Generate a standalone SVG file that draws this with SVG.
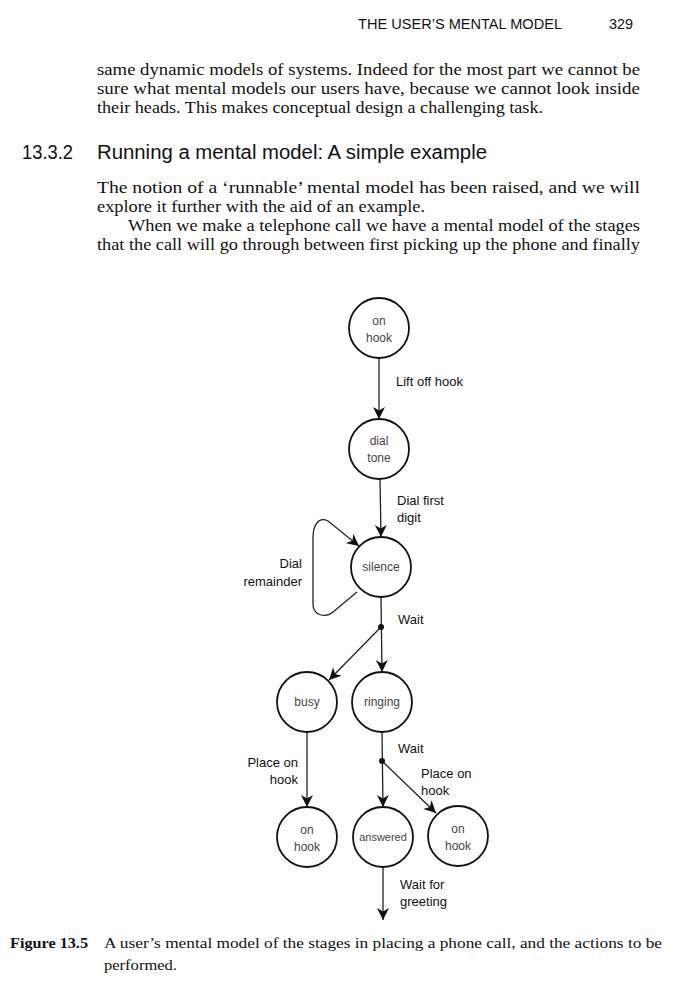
<svg xmlns="http://www.w3.org/2000/svg" width="700" height="1005" viewBox="0 0 700 1005">
<style>
.hdr{font-family:"Liberation Sans",Arial,sans-serif;font-size:14px;fill:#111}
.h2{font-family:"Liberation Sans",Arial,sans-serif;font-size:19.5px;fill:#111}
.body{font-family:"Liberation Serif","Times New Roman",serif;font-size:16px;fill:#111}
.capb{font-family:"Liberation Serif","Times New Roman",serif;font-size:15px;font-weight:bold;fill:#111}
.cap{font-family:"Liberation Serif","Times New Roman",serif;font-size:15px;fill:#111}
.node circle{fill:#fff;stroke:#111;stroke-width:1.8}
.nt{font-family:"Liberation Sans",Arial,sans-serif;font-size:12px;fill:#444;text-anchor:middle}
.el{font-family:"Liberation Sans",Arial,sans-serif;font-size:13px;fill:#111}
.er{font-family:"Liberation Sans",Arial,sans-serif;font-size:13px;fill:#111;text-anchor:end}
.edge{fill:none;stroke:#222;stroke-width:1.3}
.dot{fill:#111}
</style>
<defs>
<marker id="ah" markerUnits="userSpaceOnUse" markerWidth="13" markerHeight="13" refX="12" refY="6.5" orient="auto" viewBox="0 0 13 13">
<path d="M0,0.5 L12,6.5 L0,12.5 L3.5,6.5 z" fill="#111"/>
</marker>
</defs>
<rect width="700" height="1005" fill="#fff"/>

<g id="page-text">
<text class="hdr" x="358" y="29" textLength="204" lengthAdjust="spacingAndGlyphs">THE USER’S MENTAL MODEL</text>
<text class="hdr" x="609" y="29" textLength="24" lengthAdjust="spacingAndGlyphs">329</text>
<text class="body" x="97" y="75" textLength="543" lengthAdjust="spacingAndGlyphs">same dynamic models of systems. Indeed for the most part we cannot be</text>
<text class="body" x="97" y="94" textLength="543" lengthAdjust="spacingAndGlyphs">sure what mental models our users have, because we cannot look inside</text>
<text class="body" x="97" y="113" textLength="446" lengthAdjust="spacingAndGlyphs">their heads. This makes conceptual design a challenging task.</text>
<text class="h2" x="22" y="159" textLength="51" lengthAdjust="spacingAndGlyphs">13.3.2</text>
<text class="h2" x="97" y="159" textLength="390" lengthAdjust="spacingAndGlyphs">Running a mental model: A simple example</text>
<text class="body" x="97" y="193" textLength="543" lengthAdjust="spacingAndGlyphs">The notion of a ‘runnable’ mental model has been raised, and we will</text>
<text class="body" x="97" y="212" textLength="328" lengthAdjust="spacingAndGlyphs">explore it further with the aid of an example.</text>
<text class="body" x="128" y="231" textLength="512" lengthAdjust="spacingAndGlyphs">When we make a telephone call we have a mental model of the stages</text>
<text class="body" x="97" y="250" textLength="543" lengthAdjust="spacingAndGlyphs">that the call will go through between first picking up the phone and finally</text>
<text class="capb" x="10" y="948" textLength="78" lengthAdjust="spacingAndGlyphs">Figure 13.5</text>
<text class="cap" x="104" y="948" textLength="558" lengthAdjust="spacingAndGlyphs">A user’s mental model of the stages in placing a phone call, and the actions to be</text>
<text class="cap" x="104" y="970" textLength="73" lengthAdjust="spacingAndGlyphs">performed.</text>
</g>

<g id="connectors">
<line class="edge" x1="379" y1="358" x2="379" y2="419" marker-end="url(#ah)"/>
<line class="edge" x1="380" y1="479" x2="381" y2="537" marker-end="url(#ah)"/>
<path class="edge" d="M357,592 L333,612 C326,618 313,616 313,604 L313,538 C313,526 318,516 328,521 L359,546" marker-end="url(#ah)"/>
<line class="edge" x1="381" y1="597" x2="382" y2="672" marker-end="url(#ah)"/>
<line class="edge" x1="381" y1="627" x2="329" y2="680" marker-end="url(#ah)"/>
<circle class="dot" cx="381" cy="627" r="3"/>
<line class="edge" x1="307" y1="732" x2="307" y2="807" marker-end="url(#ah)"/>
<line class="edge" x1="382" y1="732" x2="383" y2="807" marker-end="url(#ah)"/>
<line class="edge" x1="382" y1="761" x2="436" y2="813" marker-end="url(#ah)"/>
<circle class="dot" cx="382" cy="761" r="3"/>
<line class="edge" x1="383" y1="867" x2="383" y2="920" marker-end="url(#ah)"/>
<text class="el" x="396" y="386">Lift off hook</text>
<text class="el" x="397" y="505">Dial first</text>
<text class="el" x="397" y="522">digit</text>
<text class="er" x="302" y="568">Dial</text>
<text class="er" x="302" y="586">remainder</text>
<text class="el" x="398" y="624">Wait</text>
<text class="er" x="298" y="767">Place on</text>
<text class="er" x="298" y="784">hook</text>
<text class="el" x="398" y="753">Wait</text>
<text class="el" x="421" y="778">Place on</text>
<text class="el" x="421" y="795">hook</text>
<text class="el" x="400" y="889">Wait for</text>
<text class="el" x="400" y="906">greeting</text>
</g>

<g id="node-onhook1" class="node"><circle cx="379" cy="328" r="30"/><text class="nt" x="379" y="325">on</text><text class="nt" x="379" y="342">hook</text></g>
<g id="node-dialtone" class="node"><circle cx="379" cy="449" r="30"/><text class="nt" x="379" y="445">dial</text><text class="nt" x="379" y="462">tone</text></g>
<g id="node-silence" class="node"><circle cx="381" cy="567" r="30"/><text class="nt" x="381" y="571">silence</text></g>
<g id="node-busy" class="node"><circle cx="307" cy="702" r="30"/><text class="nt" x="307" y="706">busy</text></g>
<g id="node-ringing" class="node"><circle cx="382" cy="702" r="30"/><text class="nt" x="382" y="706">ringing</text></g>
<g id="node-onhook2" class="node"><circle cx="307" cy="837" r="30"/><text class="nt" x="307" y="834">on</text><text class="nt" x="307" y="851">hook</text></g>
<g id="node-answered" class="node"><circle cx="383" cy="837" r="30"/><text class="nt" x="383" y="841" style="font-size:11px">answered</text></g>
<g id="node-onhook3" class="node"><circle cx="458" cy="836" r="30"/><text class="nt" x="458" y="833">on</text><text class="nt" x="458" y="850">hook</text></g>
</svg>
